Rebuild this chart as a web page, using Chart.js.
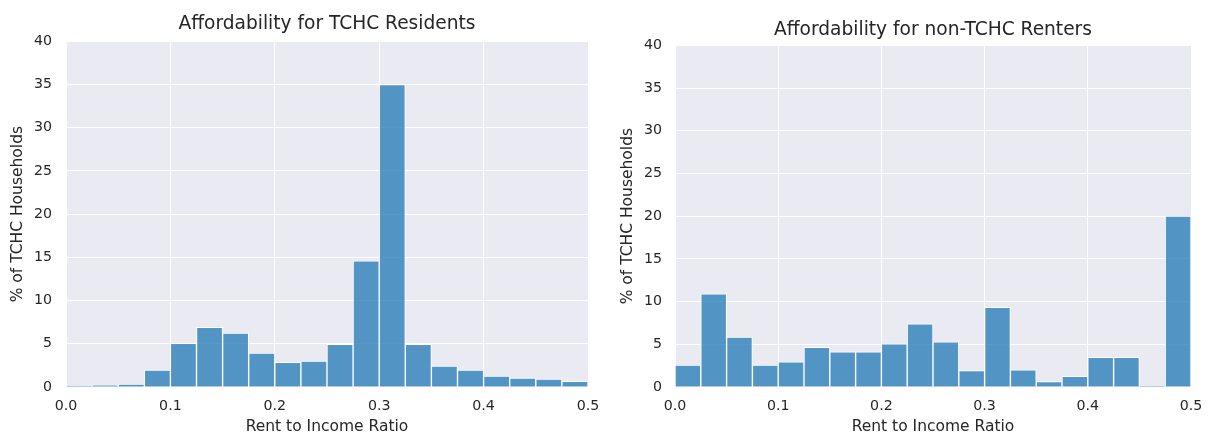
<!DOCTYPE html>
<html>
<head>
<meta charset="utf-8">
<script src="https://cdn.jsdelivr.net/npm/chart.js@4/dist/chart.umd.min.js"></script>
<style>
  body { margin: 0; background: #fff; }
  #wrap { position: relative; width: 1208px; height: 435px; }
  canvas { position: absolute; top: 0; }
</style>
</head>
<body>
<div id="wrap">
  <canvas id="tchcChart" width="604" height="435" style="left:0"></canvas>
  <canvas id="otherChart" width="604" height="435" style="left:604px"></canvas>
</div>
<script>
// histogram bins (rent to income ratio), centre of each 0.025-wide bin
const binCenters = [0.0125, 0.0375, 0.0625, 0.0875, 0.1125, 0.1375, 0.1625, 0.1875, 0.2125, 0.2375,
                    0.2625, 0.2875, 0.3125, 0.3375, 0.3625, 0.3875, 0.4125, 0.4375, 0.4625, 0.4875];

// % of households in each bin
const tchcResidents = [0.12, 0.23, 0.35, 1.97, 5.05, 6.9, 6.24, 3.93, 2.85, 3.0,
                       4.93, 14.6, 35.0, 4.93, 2.43, 1.97, 1.27, 1.04, 0.92, 0.66];
const nonTchcRenters = [2.57, 10.9, 5.84, 2.57, 2.96, 4.63, 4.12, 4.12, 5.06, 7.39,
                        5.29, 1.91, 9.34, 2.02, 0.62, 1.25, 3.46, 3.46, 0.1, 20.0];

const xTicks = [0, 0.1, 0.2, 0.3, 0.4, 0.5];
const yTicks = [0, 5, 10, 15, 20, 25, 30, 35, 40];

const textColor = '#262626';
const fontFamily = '"DejaVu Sans", sans-serif';

// seaborn darkgrid style panel background
const panelBg = {
    id: 'panelBg',
    beforeDraw(chart) {
        const { ctx, chartArea: a } = chart;
        ctx.save();
        ctx.fillStyle = '#EAEAF2';
        ctx.fillRect(a.left, a.top, a.right - a.left, a.bottom - a.top);
        ctx.restore();
    }
};

function makeHist(canvasId, title, values, box) {
    const ctx = document.getElementById(canvasId).getContext('2d');
    return new Chart(ctx, {
        type: 'bar',
        data: {
            datasets: [{
                data: binCenters.map((c, i) => ({ x: c, y: values[i] })),
                backgroundColor: 'rgba(31, 119, 180, 0.75)',
                borderColor: '#ffffff',
                borderWidth: 1,
                barPercentage: 1,
                categoryPercentage: 1
            }]
        },
        options: {
            responsive: false,
            animation: false,
            layout: { padding: { left: 0, right: box.right, top: 0, bottom: 0 } },
            plugins: {
                legend: { display: false },
                tooltip: { enabled: false },
                title: {
                    display: true,
                    fullSize: false,
                    text: title,
                    color: textColor,
                    font: { family: fontFamily, size: 18.6, weight: 'normal' },
                    padding: { top: box.titleTop, bottom: box.titleBottom }
                }
            },
            scales: {
                x: {
                    type: 'linear',
                    min: 0,
                    max: 0.5,
                    offset: false,
                    afterBuildTicks: s => { s.ticks = xTicks.map(v => ({ value: v })); },
                    afterFit: s => { s.height = 48; s.paddingLeft = 0; s.paddingRight = 0; },
                    ticks: {
                        color: textColor,
                        padding: 11,
                        font: { family: fontFamily, size: 14.2 },
                        callback: v => v.toFixed(1)
                    },
                    grid: { color: '#ffffff', lineWidth: 1, drawTicks: false, offset: false },
                    border: { display: false },
                    title: {
                        display: true,
                        text: 'Rent to Income Ratio',
                        color: textColor,
                        font: { family: fontFamily, size: 15.5 },
                        padding: { top: 0, bottom: -1 }
                    }
                },
                y: {
                    min: 0,
                    max: 40,
                    afterBuildTicks: s => { s.ticks = yTicks.map(v => ({ value: v })); },
                    afterFit: s => { s.width = box.yWidth; s.paddingTop = 0; s.paddingBottom = 0; },
                    ticks: {
                        color: textColor,
                        padding: box.tickPad,
                        font: { family: fontFamily, size: 14.2 }
                    },
                    grid: { color: '#ffffff', lineWidth: 1, drawTicks: false },
                    border: { display: false },
                    title: {
                        display: true,
                        text: '% of TCHC Households',
                        color: textColor,
                        font: { family: fontFamily, size: 15.5 },
                        padding: { top: box.yTitlePad, bottom: 0 }
                    }
                }
            }
        },
        plugins: [panelBg]
    });
}

makeHist('tchcChart', 'Affordability for TCHC Residents', tchcResidents,
    { right: 16, yWidth: 66, tickPad: 14, yTitlePad: 9, titleTop: 13, titleBottom: 6 });
makeHist('otherChart', 'Affordability for non-TCHC Renters', nonTchcRenters,
    { right: 17, yWidth: 71, tickPad: 13, yTitlePad: 15, titleTop: 19, titleBottom: 4 });
</script>
</body>
</html>
